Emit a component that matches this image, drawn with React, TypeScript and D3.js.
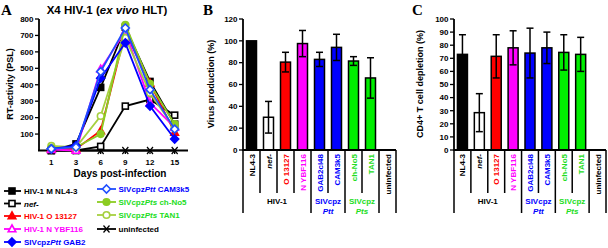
import React from "react";
import * as d3 from "d3";

const days = ["1", "3", "6", "9", "12", "15"];
const nl43 = [0, 40, 384, 750, 420, 160];
const nefMinus = [0, 0, 25, 270, 310, 215];
const o13127 = [10, 10, 120, 720, 410, 110];
const nYbf116 = [5, 0, 495, 725, 290, 140];
const gab2 = [10, 30, 440, 655, 270, 70];
const cam3k5 = [10, 20, 480, 745, 370, 130];
const chNo5 = [15, 20, 100, 765, 405, 160];
const tan1 = [28, 20, 210, 685, 350, 135];
const uninfected = [0, 0, 0, 0, 0, 0];
const yTicksA = [100, 200, 300, 400, 500, 600, 700, 800];

const categories = ["NL4-3", "nef-", "O 13127", "N YBF116", "GAB2cl48", "CAM3k5", "ch-No5", "TAN1", "uninfected"];
const virusProduction = [100, 30, 80.5, 97.5, 83, 94, 81.5, 66, 0];
const virusErr = [0, 14.5, 9, 12, 6.5, 12, 4, 18.5, 0];
const depletion = [73, 28.5, 71.5, 78, 74, 78, 74.5, 73, 0];
const depletionErr = [15, 14.5, 16.5, 13, 19, 12, 13.5, 13, 0];
const yTicksB = [0, 20, 40, 60, 80, 100, 120];
const yTicksC = [0, 10, 20, 30, 40, 50, 60, 70, 80, 90, 100];

const FONT = "Liberation Sans, Arial, sans-serif";
const RED = "#ff0000";
const MAG = "#ff00ff";
const BLUE = "#0000ff";
const BLUE2 = "#1f4fff";
const YG = "#8ccc22";
const YG2 = "#a6d040";
const GREEN_TXT = "#22dd22";
const GREEN_BAR = "#00ee00";

type Mk = "sq" | "tri" | "dia" | "circ" | "x";
const series = [
  { key: "nl43", values: nl43, color: "#000", text: "#000", mk: "sq" as Mk, filled: true },
  { key: "nef", values: nefMinus, color: "#000", text: "#000", mk: "sq" as Mk, filled: false },
  { key: "o", values: o13127, color: RED, text: RED, mk: "tri" as Mk, filled: true },
  { key: "n", values: nYbf116, color: MAG, text: MAG, mk: "tri" as Mk, filled: false },
  { key: "gab2", values: gab2, color: BLUE, text: BLUE, mk: "dia" as Mk, filled: true },
  { key: "cam", values: cam3k5, color: BLUE2, text: BLUE, mk: "dia" as Mk, filled: false },
  { key: "chno5", values: chNo5, color: YG, text: GREEN_TXT, mk: "circ" as Mk, filled: true },
  { key: "tan1", values: tan1, color: YG2, text: GREEN_TXT, mk: "circ" as Mk, filled: false },
  { key: "uninf", values: uninfected, color: "#000", text: "#000", mk: "x" as Mk, filled: false },
];

function Marker({ mk, x, y, color, filled }: { mk: Mk; x: number; y: number; color: string; filled: boolean }) {
  const fill = filled ? color : "#fff";
  const sw = 1.6;
  if (mk === "sq") return <rect x={x - 3} y={y - 3} width={6} height={6} fill={fill} stroke={color} strokeWidth={sw} />;
  if (mk === "tri")
    return <path d={`M${x},${y - 4}L${x + 3.8},${y + 2.8}L${x - 3.8},${y + 2.8}Z`} fill={fill} stroke={color} strokeWidth={sw} />;
  if (mk === "dia")
    return <path d={`M${x},${y - 4}L${x + 4},${y}L${x},${y + 4}L${x - 4},${y}Z`} fill={fill} stroke={color} strokeWidth={sw} />;
  if (mk === "circ") return <circle cx={x} cy={y} r={3.3} fill={fill} stroke={color} strokeWidth={sw} />;
  return (
    <path d={`M${x - 3},${y - 3.5}L${x + 3},${y + 3.5}M${x + 3},${y - 3.5}L${x - 3},${y + 3.5}`} stroke={color} strokeWidth={1.2} fill="none" />
  );
}

function PanelA() {
  const x = d3.scalePoint<string>().domain(days).range([39, 187]).padding(0.5);
  const y = d3.scaleLinear().domain([0, 800]).range([150.5, 19]);
  const line = d3
    .line<number>()
    .x((_, i) => x(days[i]) as number)
    .y((v) => y(v));
  const order = [8, 1, 0, 2, 3, 7, 6, 4, 5];
  const legendLeft = [
    { s: 0, label: <tspan>HIV-1 M NL4-3</tspan> },
    { s: 1, label: <tspan fontStyle="italic">nef-</tspan> },
    { s: 2, label: <tspan>HIV-1 O 13127</tspan> },
    { s: 3, label: <tspan>HIV-1 N YBF116</tspan> },
    { s: 4, label: <><tspan>SIVcpz</tspan><tspan fontStyle="italic">Ptt</tspan><tspan> GAB2</tspan></> },
  ];
  const legendRight = [
    { s: 5, label: <><tspan>SIVcpz</tspan><tspan fontStyle="italic">Ptt</tspan><tspan> CAM3k5</tspan></> },
    { s: 6, label: <><tspan>SIVcpz</tspan><tspan fontStyle="italic">Pts</tspan><tspan> ch-No5</tspan></> },
    { s: 7, label: <><tspan>SIVcpz</tspan><tspan fontStyle="italic">Pts</tspan><tspan> TAN1</tspan></> },
    { s: 8, label: <tspan>uninfected</tspan> },
  ];
  const leftY = [191, 203.5, 216, 229, 242];
  const rightY = [189, 202, 215, 229];
  return (
    <g fontFamily={FONT} fontWeight="bold">
      <text x={1} y={15} fontFamily="Liberation Serif, Times New Roman, serif" fontSize={15} fontWeight="bold">A</text>
      <text x={107} y={14} fontSize={11.5} textAnchor="middle">
        X4 HIV-1 (<tspan fontStyle="italic">ex vivo</tspan> HLT)
      </text>
      <text transform="translate(13,84) rotate(-90)" fontSize={9} textAnchor="middle">RT-activity (PSL)</text>
      {yTicksA.map((t) => (
        <g key={t}>
          <line x1={35} x2={39} y1={y(t)} y2={y(t)} stroke="#000" strokeWidth={1.3} />
          <text x={33.5} y={y(t) + 2.8} fontSize={8} textAnchor="end">{t}</text>
        </g>
      ))}
      <line x1={39} x2={39} y1={19} y2={151} stroke="#000" strokeWidth={1.8} />
      <line x1={38} x2={188} y1={150.5} y2={150.5} stroke="#000" strokeWidth={1.8} />
      {days.map((d) => (
        <g key={d}>
          <line x1={x(d)} x2={x(d)} y1={150.5} y2={154} stroke="#000" strokeWidth={1.3} />
          <text x={x(d)} y={165} fontSize={8} textAnchor="middle">{d}</text>
        </g>
      ))}
      <text x={120} y={177} fontSize={10} textAnchor="middle">Days post-infection</text>
      {order.map((si) => {
        const s = series[si];
        return (
          <g key={s.key}>
            <path d={line(s.values) || ""} fill="none" stroke={s.color} strokeWidth={1.8} />
            {s.values.map((v, i) => (
              <Marker key={i} mk={s.mk} x={x(days[i]) as number} y={y(v)} color={s.color} filled={s.filled} />
            ))}
          </g>
        );
      })}
      {legendLeft.map((l, i) => {
        const s = series[l.s];
        return (
          <g key={s.key}>
            <line x1={4} x2={21} y1={leftY[i]} y2={leftY[i]} stroke={s.color} strokeWidth={1.8} />
            <Marker mk={s.mk} x={12} y={leftY[i]} color={s.color} filled={s.filled} />
            <text x={24} y={leftY[i] + 3} fontSize={8} fill={s.text}>{l.label}</text>
          </g>
        );
      })}
      {legendRight.map((l, i) => {
        const s = series[l.s];
        return (
          <g key={s.key}>
            <line x1={97} x2={116} y1={rightY[i]} y2={rightY[i]} stroke={s.color} strokeWidth={1.8} />
            <Marker mk={s.mk} x={106.5} y={rightY[i]} color={s.color} filled={s.filled} />
            <text x={118.5} y={rightY[i] + 3} fontSize={8} fill={s.text}>{l.label}</text>
          </g>
        );
      })}
    </g>
  );
}

const catFill = ["#000", "#fff", RED, MAG, BLUE, BLUE, GREEN_BAR, GREEN_BAR, "#fff"];
const catText = ["#000", "#000", RED, MAG, BLUE, BLUE, GREEN_TXT, GREEN_TXT, "#000"];
const groups = [
  { start: 0, end: 4, label: "HIV-1", sub: "", color: "#000" },
  { start: 4, end: 6, label: "SIVcpz", sub: "Ptt", color: BLUE },
  { start: 6, end: 8, label: "SIVcpz", sub: "Pts", color: GREEN_TXT },
];
const fullLines = [0, 4, 6, 8, 9];

function BarPanel(props: {
  letter: string;
  letterX: number;
  axisX: number;
  right: number;
  yMax: number;
  ticks: number[];
  values: number[];
  errs: number[];
  ylabel: string;
  ylabelX: number;
}) {
  const { letter, letterX, axisX, right, yMax, ticks, values, errs, ylabel, ylabelX } = props;
  const x = d3.scaleBand<string>().domain(categories).range([axisX, right]).paddingInner(0);
  const y = d3.scaleLinear().domain([0, yMax]).range([150, 19]);
  const bw = x.bandwidth();
  const barW = 10;
  const cx = (c: string) => (x(c) as number) + bw / 2;
  return (
    <g fontFamily={FONT} fontWeight="bold">
      <text x={letterX} y={15} fontFamily="Liberation Serif, Times New Roman, serif" fontSize={15} fontWeight="bold">{letter}</text>
      <text transform={`translate(${ylabelX},84) rotate(-90)`} fontSize={9} textAnchor="middle">{ylabel}</text>
      {ticks.map((t) => (
        <g key={t}>
          <line x1={axisX - 4} x2={axisX} y1={y(t)} y2={y(t)} stroke="#000" strokeWidth={1.3} />
          <text x={axisX - 5.5} y={y(t) + 2.8} fontSize={8} textAnchor="end">{t}</text>
        </g>
      ))}
      {categories.map((c, i) =>
        values[i] > 0 ? (
          <rect key={c} x={cx(c) - barW / 2} y={y(values[i])} width={barW} height={y(0) - y(values[i])} fill={catFill[i]} stroke="#000" strokeWidth={1.5} />
        ) : null
      )}
      {categories.map((c, i) =>
        errs[i] > 0 ? (
          <g key={c} stroke="#000" strokeWidth={1.5}>
            <line x1={cx(c)} x2={cx(c)} y1={y(values[i] + errs[i])} y2={y(values[i] - errs[i])} />
            <line x1={cx(c) - 3.5} x2={cx(c) + 3.5} y1={y(values[i] + errs[i])} y2={y(values[i] + errs[i])} />
            <line x1={cx(c) - 3.5} x2={cx(c) + 3.5} y1={y(values[i] - errs[i])} y2={y(values[i] - errs[i])} />
          </g>
        ) : null
      )}
      <line x1={axisX} x2={axisX} y1={19} y2={151} stroke="#000" strokeWidth={1.8} />
      <line x1={axisX} x2={right} y1={150} y2={150} stroke="#000" strokeWidth={1.8} />
      {categories.map((c, i) => {
        const xl = x(c) as number;
        const full = fullLines.includes(i);
        return <line key={c} x1={xl} x2={xl} y1={150} y2={full ? 213 : 193} stroke="#000" strokeWidth={1.5} />;
      })}
      <line x1={right} x2={right} y1={150} y2={213} stroke="#000" strokeWidth={1.5} />
      {categories.map((c, i) => (
        <text
          key={c}
          transform={`translate(${cx(c) + 3},154) rotate(-90)`}
          fontSize={8}
          textAnchor="end"
          fill={catText[i]}
          fontStyle={c === "nef-" ? "italic" : "normal"}
        >
          {c}
        </text>
      ))}
      {groups.map((g) => {
        const gx = ((x(categories[g.start]) as number) + (x(categories[g.end - 1]) as number) + bw) / 2;
        return (
          <g key={g.start} fill={g.color}>
            <text x={gx} y={204} fontSize={8} textAnchor="middle">{g.label}</text>
            {g.sub ? (
              <text x={gx} y={214} fontSize={8} textAnchor="middle" fontStyle="italic">{g.sub}</text>
            ) : null}
          </g>
        );
      })}
    </g>
  );
}

export default function App() {
  return (
    <svg width={608} height={248} viewBox="0 0 608 248" style={{ display: "block", position: "absolute", left: 0, top: 0, background: "#fff" }}>
      <rect width={608} height={248} fill="#fff" />
      <PanelA />
      <BarPanel letter="B" letterX={203} axisX={243} right={396} yMax={120} ticks={yTicksB} values={virusProduction} errs={virusErr} ylabel="Virus production (%)" ylabelX={214} />
      <BarPanel letter="C" letterX={412} axisX={454} right={606} yMax={100} ticks={yTicksC} values={depletion} errs={depletionErr} ylabel="CD4+ T cell depletion (%)" ylabelX={423} />
    </svg>
  );
}
